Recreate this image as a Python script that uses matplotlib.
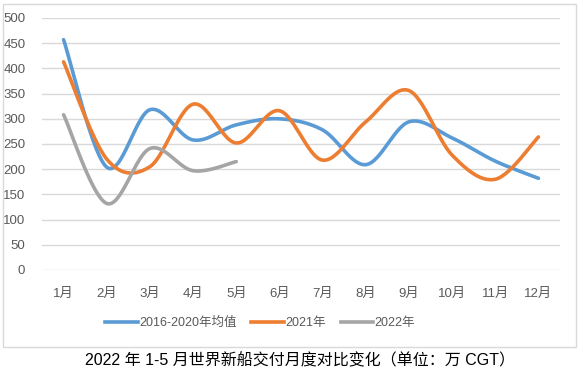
import numpy as np
import matplotlib
matplotlib.use('Agg')
import matplotlib.pyplot as plt
from matplotlib.patches import Rectangle
from matplotlib.lines import Line2D

plt.rcParams['font.family'] = ['Liberation Sans', 'Noto Sans CJK SC', 'DejaVu Sans']

# dados
meses = ['1月', '2月', '3月', '4月', '5月', '6月', '7月', '8月', '9月', '10月', '11月', '12月']
media_16_20 = [457, 204, 318, 258, 288, 300, 278, 209, 294, 262, 216, 182]
ano_2021 = [413, 220, 205, 329, 252, 316, 218, 294, 356, 228, 180, 264]
ano_2022 = [308, 132, 241, 197, 215]

series = [
    ('2016-2020年均值', media_16_20, '#5B9BD5'),
    ('2021年', ano_2021, '#ED7D31'),
    ('2022年', ano_2022, '#A5A5A5'),
]


# curva suavizada tipo Excel (Catmull-Rom)
def suaviza(xs, ys, n=30):
    xs = np.asarray(xs, float)
    ys = np.asarray(ys, float)
    px = np.concatenate([[xs[0]], xs, [xs[-1]]])
    py = np.concatenate([[ys[0]], ys, [ys[-1]]])
    out_x, out_y = [], []
    t = np.linspace(0, 1, n)
    for i in range(1, len(px) - 2):
        p0x, p1x, p2x, p3x = px[i - 1:i + 3]
        p0y, p1y, p2y, p3y = py[i - 1:i + 3]
        c1x, c1y = p1x + (p2x - p0x) / 6, p1y + (p2y - p0y) / 6
        c2x, c2y = p2x - (p3x - p1x) / 6, p2y - (p3y - p1y) / 6
        bx = (1 - t) ** 3 * p1x + 3 * (1 - t) ** 2 * t * c1x + 3 * (1 - t) * t ** 2 * c2x + t ** 3 * p2x
        by = (1 - t) ** 3 * p1y + 3 * (1 - t) ** 2 * t * c1y + 3 * (1 - t) * t ** 2 * c2y + t ** 3 * p2y
        out_x.extend(bx)
        out_y.extend(by)
    return out_x, out_y


W, H = 584, 373
fig = plt.figure(figsize=(W / 100, H / 100), dpi=100)

# moldura do gráfico
fig.patches.append(Rectangle((3 / W, (H - 347) / H), 573 / W, 343 / H, transform=fig.transFigure,
                             fill=False, edgecolor='#D9D9D9', linewidth=1))

ax = fig.add_axes([42 / W, (H - 270) / H, 518 / W, 252 / H])
for nome, valores, cor in series:
    x = np.arange(1, len(valores) + 1)
    sx, sy = suaviza(x, valores)
    ax.plot(sx, sy, color=cor, linewidth=2.6, solid_capstyle='round', label=nome)

ax.set_xlim(0.5, 12.5)
ax.set_ylim(0, 500)
ax.set_yticks(range(0, 501, 50))
ax.set_xticks(range(1, 13))
ax.set_xticklabels(meses)
ax.grid(axis='y', color='#D9D9D9', linewidth=1)
ax.set_axisbelow(True)
for s in ax.spines.values():
    s.set_visible(False)
ax.tick_params(length=0, colors='#595959', labelsize=9.5)
ax.tick_params(axis='x', pad=13)
ax.tick_params(axis='y', pad=12)

handles = [Line2D([], [], color=c, linewidth=2.6) for _, _, c in series]
fig.legend(handles, [n for n, _, _ in series], loc='center', bbox_to_anchor=(260 / W, (H - 323) / H),
           ncol=3, frameon=False, fontsize=9, handlelength=2.6, handletextpad=0.1, columnspacing=1.2,
           labelcolor='#595959')

fig.text(300 / W, (H - 361) / H, '2022 年 1-5 月世界新船交付月度对比变化（单位：万 CGT）',
         ha='center', va='center', fontsize=11.5, color='black')

fig.savefig('out.png', dpi=100)
